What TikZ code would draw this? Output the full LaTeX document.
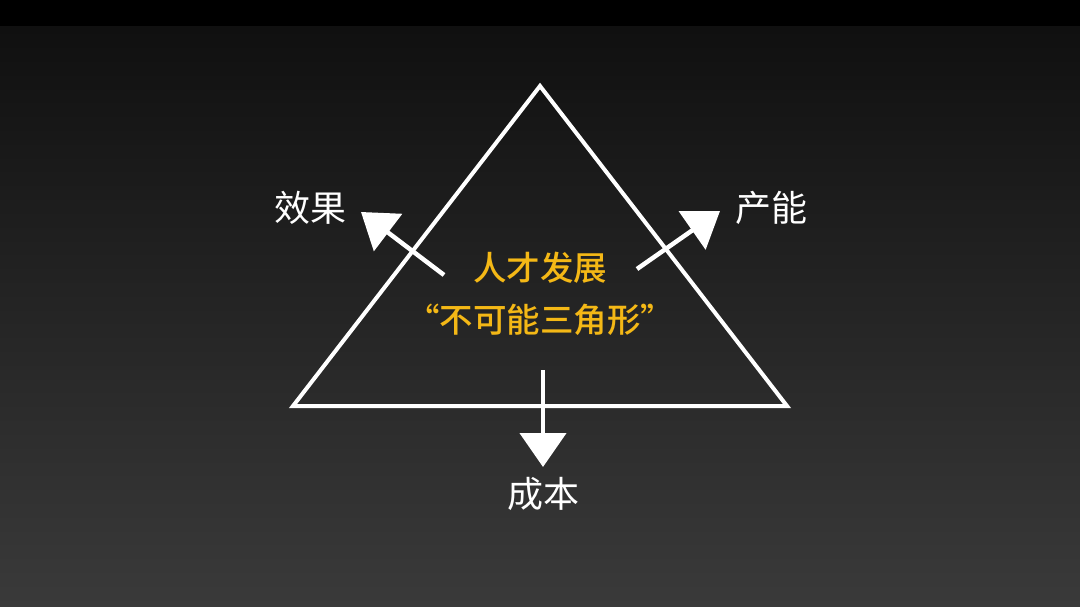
\documentclass[tikz,border=0pt]{standalone}
\usepackage{fontspec}
\newfontfamily\cjk{Noto Sans CJK SC}
\newfontfamily\cjkb{Noto Sans CJK SC Medium}
\usetikzlibrary{arrows.meta}
\definecolor{gold}{RGB}{244,184,22}
\definecolor{bgtop}{RGB}{16,16,16}
\definecolor{bgbot}{RGB}{58,58,58}
\tikzset{
  frame/.style={draw=white, line width=4pt, line join=miter},
  push/.style={draw=white, line width=4.5pt, -{Triangle[length=34pt,width=46pt]}},
  label/.style={text=white, font=\cjk\fontsize{36}{40}\selectfont, inner sep=0pt},
  core/.style={text=gold, font=\cjkb\fontsize{33.5}{38}\selectfont, inner sep=0pt, align=center}
}
\begin{document}
\begin{tikzpicture}[x=1pt,y=-1pt]
\useasboundingbox (0,0) rectangle (1080,607);
\fill[black] (0,0) rectangle (1080,27);
\shade[top color=bgtop, bottom color=bgbot] (0,27) rectangle (1080,607);
% triangle
\coordinate (apex) at (540,86);
\coordinate (bl) at (293,406);
\coordinate (br) at (787,406);
\draw[frame] (apex) -- (bl) -- (br) -- cycle;
% arrows
\coordinate (ls) at (444,275);
\coordinate (lt) at (361,212);
\coordinate (rs) at (637,269);
\coordinate (rt) at (720,211);
\coordinate (ds) at (543,370);
\coordinate (dt) at (543,467);
\draw[push] (ls) -- (lt);
\draw[push] (rs) -- (rt);
\draw[push] (ds) -- (dt);
% labels
\node[label] (xg) at (310,208) {效果};
\node[label] (cn) at (771,208) {产能};
\node[label] (cb) at (543,494) {成本};
\node[core] (t1) at (540,268) {人才发展};
\node[core] (t2) at (540,320) {“不可能三角形”};
\end{tikzpicture}
\end{document}
